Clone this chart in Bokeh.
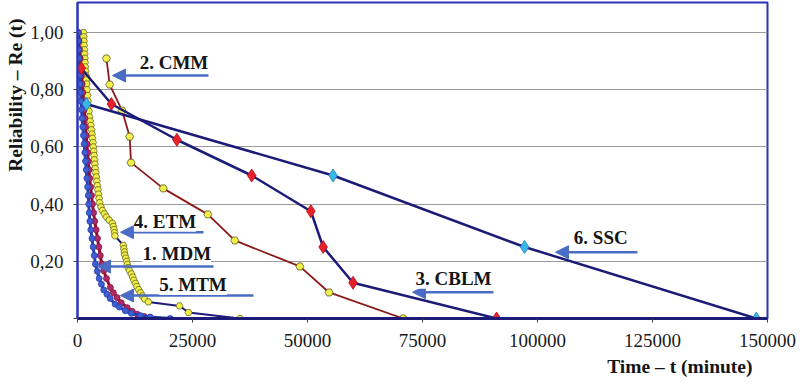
from bokeh.plotting import figure
from bokeh.models import (Range1d, FixedTicker, CustomJSTickFormatter, Label,
                          Arrow, NormalHead, Title)
from bokeh.embed import file_html
from bokeh.resources import INLINE

# ---------------- data ----------------
mdm_t = [100, 150, 220, 300, 380, 450, 540, 650, 760, 870, 1000, 1150, 1300, 1450,
         1600, 1750, 1900, 2050, 2200, 2350, 2450, 2550, 2700, 2900, 3150, 3400,
         3650, 3900, 4300, 4700, 5200, 5700, 6400, 7100, 8200, 9100, 10400, 11700,
         13700, 15800, 20150]
mdm_r = [1.0, 0.97, 0.94, 0.91, 0.88, 0.85, 0.82, 0.79, 0.76, 0.73, 0.70, 0.67, 0.64,
         0.61, 0.58, 0.55, 0.52, 0.49, 0.46, 0.43, 0.40, 0.37, 0.34, 0.31, 0.28, 0.25,
         0.22, 0.19, 0.165, 0.14, 0.12, 0.10, 0.085, 0.07, 0.05, 0.04, 0.027, 0.018,
         0.01, 0.005, 0.0]

mtm_t = [200, 300, 430, 560, 700, 850, 1000, 1150, 1300, 1450, 1600, 1750, 1900, 2050,
         2200, 2350, 2500, 2650, 2850, 3050, 3250, 3500, 3750, 4050, 4350, 4650, 4950,
         5300, 5700, 6300, 7150, 7800, 8600, 9500, 10800, 11900, 13000, 14500, 15460]
mtm_r = [1.0, 0.97, 0.94, 0.91, 0.88, 0.85, 0.82, 0.79, 0.76, 0.73, 0.70, 0.67, 0.64,
         0.61, 0.58, 0.55, 0.52, 0.49, 0.46, 0.43, 0.40, 0.37, 0.34, 0.31, 0.28, 0.25,
         0.22, 0.19, 0.167, 0.14, 0.108, 0.09, 0.073, 0.055, 0.038, 0.025, 0.015,
         0.007, 0.0]

etm_t = [1300, 1350, 1400, 1450, 1500, 1550, 1600, 1650, 1700, 1760, 1840, 1920, 2000,
         2080, 2170, 2280, 2390, 2490, 2600, 2750, 2900, 3030, 3150, 3250, 3360, 3450,
         3530, 3610, 3690, 3780, 3870, 3970, 4080, 4200, 4320, 4440, 4560, 4690, 4830,
         5100, 5420, 5850, 6290, 6900, 7590, 7800, 7950, 8050, 8130, 9970, 10080, 10200,
         10300, 10510, 10700, 10840, 11000, 11300, 11710, 12000, 12250, 12600, 12900,
         13300, 13700, 14100, 14600, 15400, 22180, 24130, 35330]
etm_r = [1.0, 0.985, 0.97, 0.955, 0.94, 0.925, 0.91, 0.895, 0.88, 0.865, 0.85, 0.835,
         0.82, 0.80, 0.78, 0.76, 0.745, 0.725, 0.705, 0.69, 0.675, 0.66, 0.645, 0.63,
         0.615, 0.60, 0.585, 0.57, 0.555, 0.54, 0.525, 0.51, 0.495, 0.48, 0.465, 0.45,
         0.435, 0.42, 0.405, 0.39, 0.378, 0.366, 0.355, 0.344, 0.333, 0.322, 0.311,
         0.30, 0.289, 0.256, 0.244, 0.233, 0.222, 0.211, 0.20, 0.189, 0.178, 0.167,
         0.156, 0.145, 0.134, 0.123, 0.112, 0.101, 0.09, 0.079, 0.068, 0.058, 0.044,
         0.021, 0.0]

cmm_t = [6290, 7000, 9690, 11340, 11640, 18640, 28330, 34180, 48340, 54700, 70820]
cmm_r = [0.909, 0.818, 0.727, 0.636, 0.545, 0.455, 0.364, 0.273, 0.182, 0.091, 0.0]

cblm_t = [800, 7370, 21600, 37870, 50730, 53400, 59900, 91100]
cblm_r = [0.875, 0.75, 0.625, 0.5, 0.375, 0.25, 0.125, 0.0]

ssc_t = [1950, 55560, 97190, 147560]
ssc_r = [0.75, 0.5, 0.25, 0.0]

x_ticks = [0, 25000, 50000, 75000, 100000, 125000, 150000]
y_ticks = [0, 0.2, 0.4, 0.6, 0.8, 1.0]

# ---------------- figure ----------------
SERIF = "'Liberation Serif', 'Times New Roman', serif"
NAVY = "#1c1c78"
ARROW = "#4a6cc4"

# frame: x 77..767, y 2..318 ; 286 px per unit of reliability
FL, FR, FT, FB = 77, 767, 2, 318
X0, X1 = 0, 150000
Y0, Y1 = 0, (FB - FT) / 286

p = figure(width=800, height=386, output_backend="svg", toolbar_location=None,
           x_range=Range1d(X0, X1), y_range=Range1d(Y0, Y1),
           min_border_left=FL, min_border_right=800 - FR, min_border_top=FT,
           min_border_bottom=386 - FB)
p.background_fill_color = "white"
p.border_fill_color = "white"
p.outline_line_color = "#2b35b8"
p.outline_line_width = 2

def dx(px):
    return (px - FL) * (X1 - X0) / (FR - FL)
def dy(py):
    return (FB - py) / 286

p.xgrid.visible = False
p.ygrid.grid_line_color = "#9a9a9a"
p.ygrid.grid_line_width = 1
p.ygrid.ticker = FixedTicker(ticks=y_ticks)

p.xaxis.ticker = FixedTicker(ticks=x_ticks)
p.xaxis.formatter = CustomJSTickFormatter(code="return tick.toFixed(0);")
p.yaxis.ticker = FixedTicker(ticks=y_ticks)
p.yaxis.formatter = CustomJSTickFormatter(
    code="return tick == 0 ? '' : tick.toFixed(2).replace('.', ',');")
for ax in (p.xaxis, p.yaxis):
    ax.major_label_text_font = SERIF
    ax.major_label_text_font_size = "19px"
    ax.major_label_text_color = "#1a1a1a"
    ax.minor_tick_line_color = None
    ax.major_tick_in = 0
    ax.major_tick_out = 4
p.xaxis.axis_line_color = NAVY
p.xaxis.axis_line_width = 3
p.xaxis.major_tick_line_color = "#444444"
p.xaxis.major_label_standoff = 11
p.yaxis.axis_line_color = "#2b35b8"
p.yaxis.axis_line_width = 2
p.yaxis.major_tick_line_color = "#444444"
p.yaxis.major_label_standoff = 10

# axis titles as side-panel titles (right / top aligned as in the reference)
p.add_layout(Title(text="Time \u2013 t (minute)", align="right", offset=15,
                   standoff=8, text_font=SERIF, text_font_style="bold",
                   text_font_size="19.5px", text_color="#151515"), "below")
p.add_layout(Title(text="Reliability \u2013 Re (t)", align="right", offset=16,
                   standoff=4, text_font=SERIF, text_font_style="bold",
                   text_font_size="19.5px", text_color="#151515"), "left")

# ---------------- series ----------------
# 4. ETM
p.line(etm_t, etm_r, line_color=NAVY, line_width=2)
p.scatter(etm_t, etm_r, marker="hex", size=7, fill_color="#f2ee4a",
          line_color="#6b6a20", line_width=0.8)
# 5. MTM
p.line(mtm_t, mtm_r, line_color="#8a1238", line_width=3)
p.scatter(mtm_t, mtm_r, marker="circle", size=6, fill_color="#b02a6a",
          line_color="#8a1238", line_width=0.8)
# 1. MDM
p.line(mdm_t, mdm_r, line_color="#2a3fb0", line_width=3)
p.scatter(mdm_t, mdm_r, marker="circle", size=6, fill_color="#3d5fd0",
          line_color="#2a3fb0", line_width=0.8)
# 2. CMM
p.line(cmm_t, cmm_r, line_color="#8b1a1a", line_width=1.8)
p.scatter(cmm_t, cmm_r, marker="hex", size=8, fill_color="#f2ee4a",
          line_color="#5a5a20", line_width=0.8)
# 3. CBLM
p.line(cblm_t, cblm_r, line_color=NAVY, line_width=2.5)
p.scatter(cblm_t, cblm_r, marker="diamond", size=13, fill_color="#e8202a",
          line_color="#b01018", line_width=0.8)
# 6. SSC
p.line(ssc_t, ssc_r, line_color=NAVY, line_width=2.5)
p.scatter(ssc_t, ssc_r, marker="diamond", size=13, fill_color="#38b8e8",
          line_color="#2878b8", line_width=0.8)

# ---------------- callouts ----------------
callouts = [
    ("2. CMM", 173.5, 62, 208, 112, 75),
    ("4. ETM", 164.5, 220.7, 203, 120, 231.7),
    ("1. MDM", 176.3, 253, 213, 97, 266),
    ("5. MTM", 192.5, 284, 253, 120, 295),
    ("3. CBLM", 453, 277.7, 493, 412, 291.7),
    ("6. SSC", 600.3, 237, 637, 555, 251.7),
]
for txt, tx, ty, ax0, ax1, ay in callouts:
    p.add_layout(Arrow(end=NormalHead(size=13, fill_color=ARROW, line_color=ARROW),
                       x_start=dx(ax0), y_start=dy(ay), x_end=dx(ax1), y_end=dy(ay),
                       line_color=ARROW, line_width=2.5))
    p.add_layout(Label(x=dx(tx), y=dy(ty), text=txt, text_font=SERIF,
                       text_font_style="bold", text_font_size="19px",
                       text_align="center", text_baseline="middle",
                       text_color="#151515", background_fill_color="white"))

open("out.html", "w").write(file_html(p, INLINE))
